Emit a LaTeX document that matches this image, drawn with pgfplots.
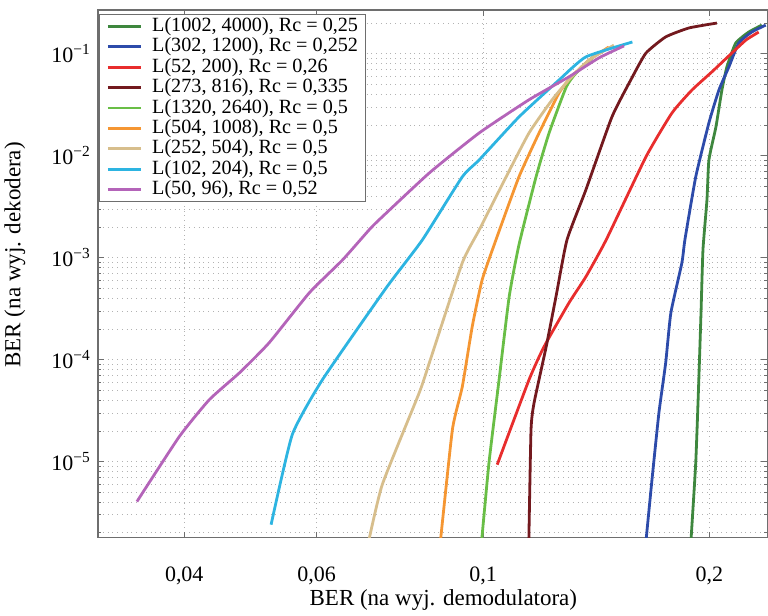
\documentclass[border=0pt]{standalone}
\usepackage{fontspec}
\setmainfont{Liberation Serif}
\usepackage{pgfplots}
\pgfplotsset{compat=1.18}

\definecolor{cA}{RGB}{62,135,62}
\definecolor{cB}{RGB}{45,75,170}
\definecolor{cC}{RGB}{232,45,45}
\definecolor{cD}{RGB}{115,25,30}
\definecolor{cE}{RGB}{105,190,70}
\definecolor{cF}{RGB}{245,150,50}
\definecolor{cG}{RGB}{215,190,140}
\definecolor{cH}{RGB}{45,180,225}
\definecolor{cI}{RGB}{180,100,185}
\definecolor{axgray}{RGB}{110,110,110}

\begin{document}
\begin{tikzpicture}
\begin{axis}[
  name=ax,
  scale only axis,
  width=335pt, height=264pt,
  xmode=log, ymode=log,
  xmin=0.0307, xmax=0.239,
  ymin=1.8e-6, ymax=0.27,
  xtick={0.04,0.06,0.1,0.2},
  xticklabels={{0,04},{0,06},{0,1},{0,2}},
  minor xtick={},
  ytick={1e-5,1e-4,1e-3,1e-2,1e-1},
  yticklabels={10\textsuperscript{−5},10\textsuperscript{−4},10\textsuperscript{−3},10\textsuperscript{−2},10\textsuperscript{−1}},
  minor ytick={2e-6,3e-6,4e-6,5e-6,6e-6,7e-6,8e-6,9e-6,
               2e-5,3e-5,4e-5,5e-5,6e-5,7e-5,8e-5,9e-5,
               2e-4,3e-4,4e-4,5e-4,6e-4,7e-4,8e-4,9e-4,
               2e-3,3e-3,4e-3,5e-3,6e-3,7e-3,8e-3,9e-3,
               2e-2,3e-2,4e-2,5e-2,6e-2,7e-2,8e-2,9e-2,0.2},
  grid=both,
  major grid style={gray!60, dotted, line width=0.5pt},
  minor grid style={gray!60, dotted, line width=0.5pt},
  axis line style={axgray, line width=0.6pt},
  tick style={axgray, line width=0.5pt},
  major tick length=3pt, minor tick length=1.8pt,
  tick label style={font=\fontsize{11}{13}\selectfont},
  xticklabel style={yshift=-11pt},
  label style={font=\fontsize{11.5}{14}\selectfont},
  xlabel={BER (na wyj. demodulatora)},
  ylabel={BER (na wyj. dekodera)},
  xlabel style={at={(axis description cs:0.516,-0.0985)}, anchor=north, inner sep=0pt},
  ylabel style={at={(axis description cs:-0.1239,0.536)}, anchor=center, inner sep=0pt},
  legend style={at={(0.0015,0.992)}, anchor=north west, draw=axgray, line width=0.5pt,
    font=\fontsize{10.1}{11}\selectfont, inner xsep=3.5pt, inner ysep=0.8pt,
    nodes={inner sep=0pt, text height=7.6pt, text depth=2.6pt},
    cells={anchor=west}, column sep=5pt},
  legend image code/.code={\draw[#1] (0pt,0pt) -- (16.5pt,0pt);},
  every axis plot/.append style={line width=1.4pt, smooth, tension=0.3},
]
% L(1002, 4000)
\addplot[cA] coordinates {(0.1889,1.5e-6) (0.1919,9.77e-6) (0.1937,6.37e-5) (0.1950,2.89e-4)
  (0.1962,1.20e-3) (0.1986,3.71e-3) (0.1998,9.14e-3) (0.2041,1.92e-2) (0.2079,4.43e-2)
  (0.2111,7.47e-2) (0.2169,0.128) (0.2257,0.164) (0.235,0.192)};
\addlegendentry{L(1002, 4000), Rc = 0,25}
% L(302, 1200)
\addplot[cB] coordinates {(0.1645,1.5e-6) (0.1678,6.67e-6) (0.1714,3.02e-5) (0.175,9.35e-5)
  (0.1778,2.89e-4) (0.1839,8.93e-4) (0.1856,1.5e-3) (0.1919,6.23e-3) (0.1998,2.11e-2)
  (0.206,4.43e-2) (0.2124,7.47e-2) (0.2189,0.128) (0.2278,0.164) (0.2378,0.192)};
\addlegendentry{L(302, 1200), Rc = 0,252}
% L(52, 200)
\addplot[cC] coordinates {(0.1044,9.35e-6) (0.1151,6.37e-5) (0.1205,1.34e-4) (0.1301,3.62e-4)
  (0.137,6.52e-4) (0.1458,1.5e-3) (0.1647,9.78e-3) (0.1784,2.64e-2) (0.1897,4.43e-2)
  (0.2016,6.67e-2) (0.2143,0.102) (0.2238,0.137) (0.2327,0.164)};
\addlegendentry{L(52, 200), Rc = 0,26}
% L(273, 816)
\addplot[cD] coordinates {(0.1150,1.5e-6) (0.1158,2.06e-5) (0.1169,3.79e-5) (0.1213,1.34e-4)
  (0.125,4.15e-4) (0.1293,1.5e-3) (0.137,4.64e-3) (0.1484,2.41e-2) (0.158,5.95e-2)
  (0.1647,0.102) (0.175,0.147) (0.188,0.18) (0.2047,0.201)};
\addlegendentry{L(273, 816), Rc = 0,335}
% L(1320, 2640)
\addplot[cE] coordinates {(0.0994,1.5e-6) (0.1018,9.77e-6) (0.1050,6.37e-5) (0.1083,4.15e-4)
  (0.1116,1.34e-3) (0.1176,6.23e-3) (0.1224,1.68e-2) (0.1290,4.74e-2) (0.133,6.51e-2)
  (0.1426,0.105)};
\addlegendentry{L(1320, 2640), Rc = 0,5}
% L(504, 1008)
\addplot[cF] coordinates {(0.0876,1.5e-6) (0.0910,2.06e-5) (0.0938,5.43e-5) (0.0967,2.11e-4)
  (0.0997,6.09e-4) (0.104,1.5e-3) (0.1116,6.23e-3) (0.1187,1.68e-2) (0.1262,4.15e-2)
  (0.131,5.95e-2) (0.1384,8.73e-2) (0.147,0.117)};
\addlegendentry{L(504, 1008), Rc = 0,5}
% L(252, 504)
\addplot[cG] coordinates {(0.0702,1.5e-6) (0.0734,5.96e-6) (0.0822,4.74e-5) (0.0848,9.35e-5)
  (0.0938,8.93e-4) (0.0988,1.88e-3) (0.1073,6.23e-3) (0.1151,1.68e-2) (0.1235,3.54e-2)
  (0.130,5.56e-2) (0.1384,8.73e-2) (0.1493,0.122)};
\addlegendentry{L(252, 504), Rc = 0,5}
% L(102, 204)
\addplot[cH] coordinates {(0.0522,2.41e-6) (0.0557,1.84e-5) (0.0611,6.37e-5) (0.0743,5.08e-4)
  (0.0830,1.5e-3) (0.0938,6.23e-3) (0.0988,9.14e-3) (0.1116,2.41e-2) (0.1262,5.56e-2)
  (0.137,9.36e-2) (0.158,0.131)};
\addlegendentry{L(102, 204), Rc = 0,5}
% L(50, 96)
\addplot[cI] coordinates {(0.0346,4.06e-6) (0.0394,1.76e-5) (0.0432,4.06e-5) (0.0474,7.47e-5)
  (0.0519,1.47e-4) (0.0587,4.54e-4) (0.0650,9.55e-4) (0.0705,1.88e-3) (0.0727,2.36e-3)
  (0.0848,6.81e-3) (0.0988,1.68e-2) (0.115,3.54e-2) (0.130,5.95e-2) (0.1426,9.15e-2)
  (0.154,0.120)};
\addlegendentry{L(50, 96), Rc = 0,52}
\end{axis}
\path ([xshift=-49pt,yshift=-39pt]ax.south west) rectangle ([yshift=5pt]ax.north east);
\end{tikzpicture}
\end{document}
